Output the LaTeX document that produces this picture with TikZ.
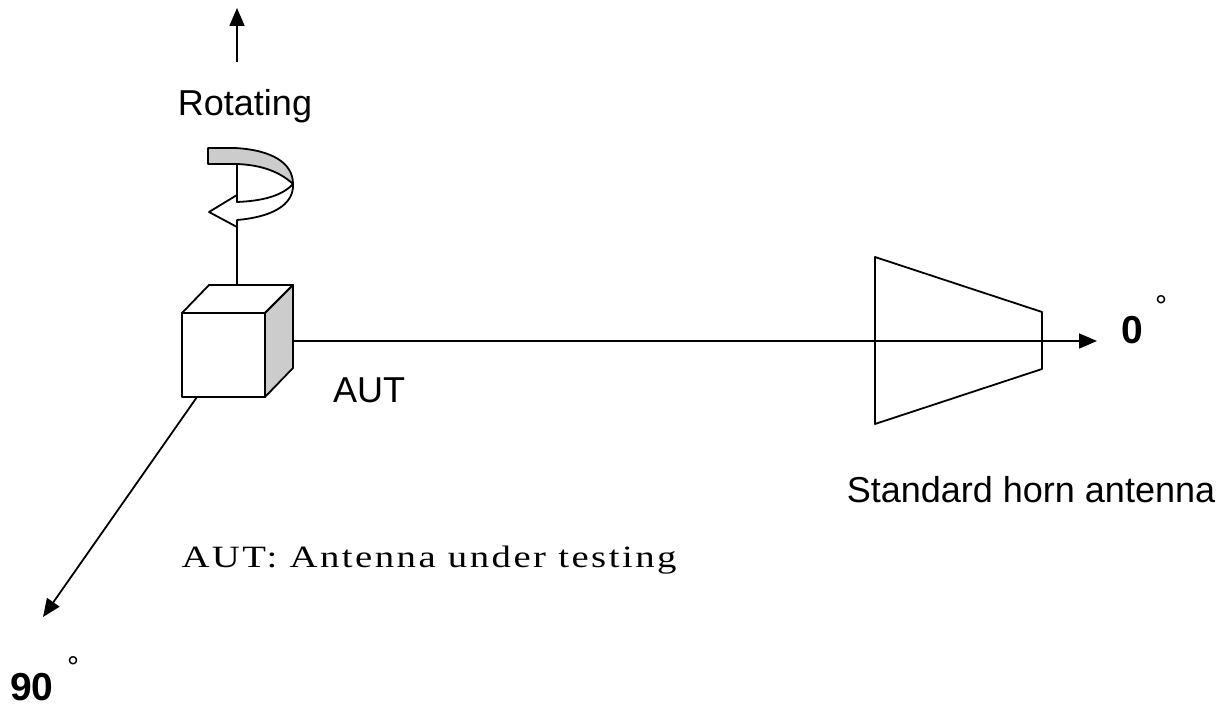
\documentclass[tikz,border=0pt]{standalone}
\usepackage{fontspec}
\setmainfont{Liberation Sans}
\newfontfamily\notefont[FakeStretch=1.25, LetterSpace=8]{Liberation Serif}
\usetikzlibrary{arrows.meta}

\begin{document}
\begin{tikzpicture}[x=1pt, y=-1pt, line join=round,
		every node/.style={inner sep=0pt},
		edge/.style={line width=1.8pt},
		axis/.style={edge, -{Triangle[length=18pt,width=15pt]}},
		txtlabel/.style={font=\fontsize{36}{40}\selectfont, anchor=base},
		anglelabel/.style={font=\fontsize{39}{42}\selectfont\bfseries, anchor=base},
		deglabel/.style={font=\fontsize{30}{32}\selectfont, anchor=north}]
	\useasboundingbox (0,0) rectangle (1228,711);

	% Corners of the cube (AUT)
	\coordinate (fa) at (182,313);
	\coordinate (fb) at (265,313);
	\coordinate (fc) at (265,397);
	\coordinate (ba) at (209,285);
	\coordinate (bb) at (293,285);
	\coordinate (bc) at (293,368);

	% Ends of the axes
	\coordinate (cubetop) at (237,285);
	\coordinate (shafttop) at (237,164);
	\coordinate (upfoot) at (237,62);
	\coordinate (uptip) at (237,8);
	\coordinate (cubeside) at (293,341);
	\coordinate (zerotip) at (1097,341);
	\coordinate (cubefoot) at (197,397);
	\coordinate (ninetytip) at (43,617);

	% Axes
	\draw[axis] (cubeside) -- (zerotip);
	\draw[axis] (cubefoot) -- (ninetytip);
	\draw[edge] (cubetop) -- (shafttop);
	\draw[axis] (upfoot) -- (uptip);

	% Cube
	\draw[edge, fill=white] (fa) rectangle (fc);
	\draw[edge, fill=white] (fa) -- (ba) -- (bb) -- (fb) -- cycle;
	\draw[edge, fill=gray!40] (fb) -- (bb) -- (bc) -- (fc) -- cycle;

	% Rotating band: back part
	\draw[edge, fill=gray!40] (208,148) -- (235,148) .. controls (272,150) and (293,163) .. (293,184)
		.. controls (280,172) and (262,165) .. (237,164) -- (208,164) -- cycle;
	% Rotating band: front part with its head
	\draw[edge, fill=white] (293,184) .. controls (282,196) and (262,201) .. (237,202)
		-- (237,195) -- (209,212) -- (237,227) -- (237,220)
		.. controls (272,217) and (294,205) .. (293,184) -- cycle;

	% Standard horn antenna
	\draw[edge] (875,257) -- (1042,312) -- (1042,369) -- (875,424) -- cycle;

	% Labels
	\node[txtlabel] (rotating) at (245,116) {Rotating};
	\node[txtlabel] (aut) at (369,402) {AUT};
	\node[txtlabel] (horn) at (1031,502) {Standard horn antenna};
	\node[anglelabel] (zero) at (1132,343) {0};
	\node[deglabel] (zerodeg) at (1161,295) {°};
	\node[anglelabel] (ninety) at (32,700) {90};
	\node[deglabel] (ninetydeg) at (73,656) {°};
	\node[anchor=base, font=\notefont\fontsize{31}{34}\selectfont] (note) at (429,567) {AUT: Antenna under testing};
\end{tikzpicture}
\end{document}
